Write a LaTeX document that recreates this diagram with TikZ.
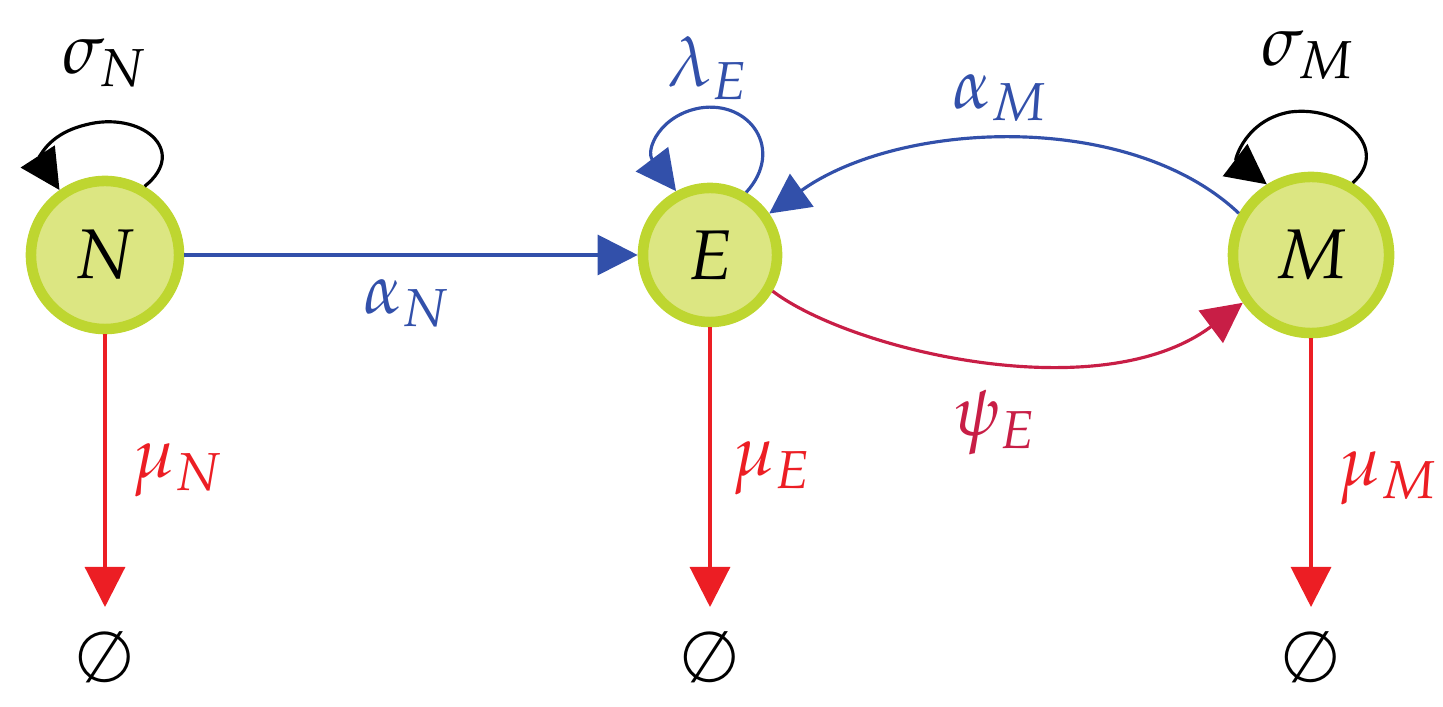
\documentclass[tikz,border=0pt]{standalone}
\usepackage{mathpazo}
\usetikzlibrary{arrows.meta}
\definecolor{ring}{RGB}{190,214,48}
\definecolor{fillc}{RGB}{220,230,130}
\definecolor{bl}{RGB}{50,80,170}
\definecolor{rd}{RGB}{236,30,36}
\definecolor{dr}{RGB}{200,30,70}
\begin{document}
\begin{tikzpicture}[x=0.01cm,y=-0.01cm,
  st/.style={circle,draw=ring,fill=fillc,line width=3pt,inner sep=0pt,font=\fontsize{20}{24}\selectfont},
  lab/.style={font=\fontsize{20}{24}\selectfont},
  tip/.style={-{Triangle[length=4mm,width=4mm]},line width=0.9pt},
  es/.style={font=\fontsize{20}{24}\selectfont,inner sep=0pt}]
\useasboundingbox (0,0) rectangle (1443,707);
\node[st,minimum size=1.48cm] (N) at (105,255) {$N$};
\node[st,minimum size=1.34cm] (E) at (710,255) {$E$};
\node[st,minimum size=1.56cm] (M) at (1311,255) {$M$};
\node[es] (n0) at (105,657) {$\emptyset$};
\node[es] (e0) at (710,657) {$\emptyset$};
\node[es] (m0) at (1311,657) {$\emptyset$};
\coordinate (nt) at (105,607);\coordinate (et) at (710,607);\coordinate (mt) at (1311,607);
\draw[tip,rd] (N.south) -- (nt);
\draw[tip,rd] (E.south) -- (et);
\draw[tip,rd] (M.south) -- (mt);
\node[lab,text=rd] (lmn) at (178,470) {$\mu_N$};
\node[lab,text=rd] (lme) at (772,468) {$\mu_E$};
\node[lab,text=rd] (lmm) at (1388,478) {$\mu_M$};
\draw[tip,bl] (N.east) -- (E.west);
\node[lab,text=bl] (lan) at (407,303) {$\alpha_N$};
\draw[tip,dr] (E.-30) .. controls (850,350) and (1100,410) .. (M.-145);
\node[lab,text=dr] (lpe) at (995,423) {$\psi_E$};
\draw[tip,bl] (M.150) .. controls (1130,110) and (900,120) .. (E.35);
\node[lab,text=bl] (lam) at (1000,98) {$\alpha_M$};
\draw[tip,black] (N.60) .. controls (190,150) and (140,110) .. (85,125) .. controls (45,135) and (40,160) .. (N.125);
\node[lab] (lsn) at (105,63) {$\sigma_N$};
\draw[tip,bl] (E.60) .. controls (785,150) and (750,100) .. (700,108) .. controls (660,115) and (645,150) .. (E.118);
\node[lab,text=bl] (lle) at (708,68) {$\lambda_E$};
\draw[tip,black] (M.60) .. controls (1390,150) and (1345,105) .. (1290,112) .. controls (1245,120) and (1235,160) .. (M.122);
\node[lab] (lsm) at (1308,55) {$\sigma_M$};
\end{tikzpicture}
\end{document}
